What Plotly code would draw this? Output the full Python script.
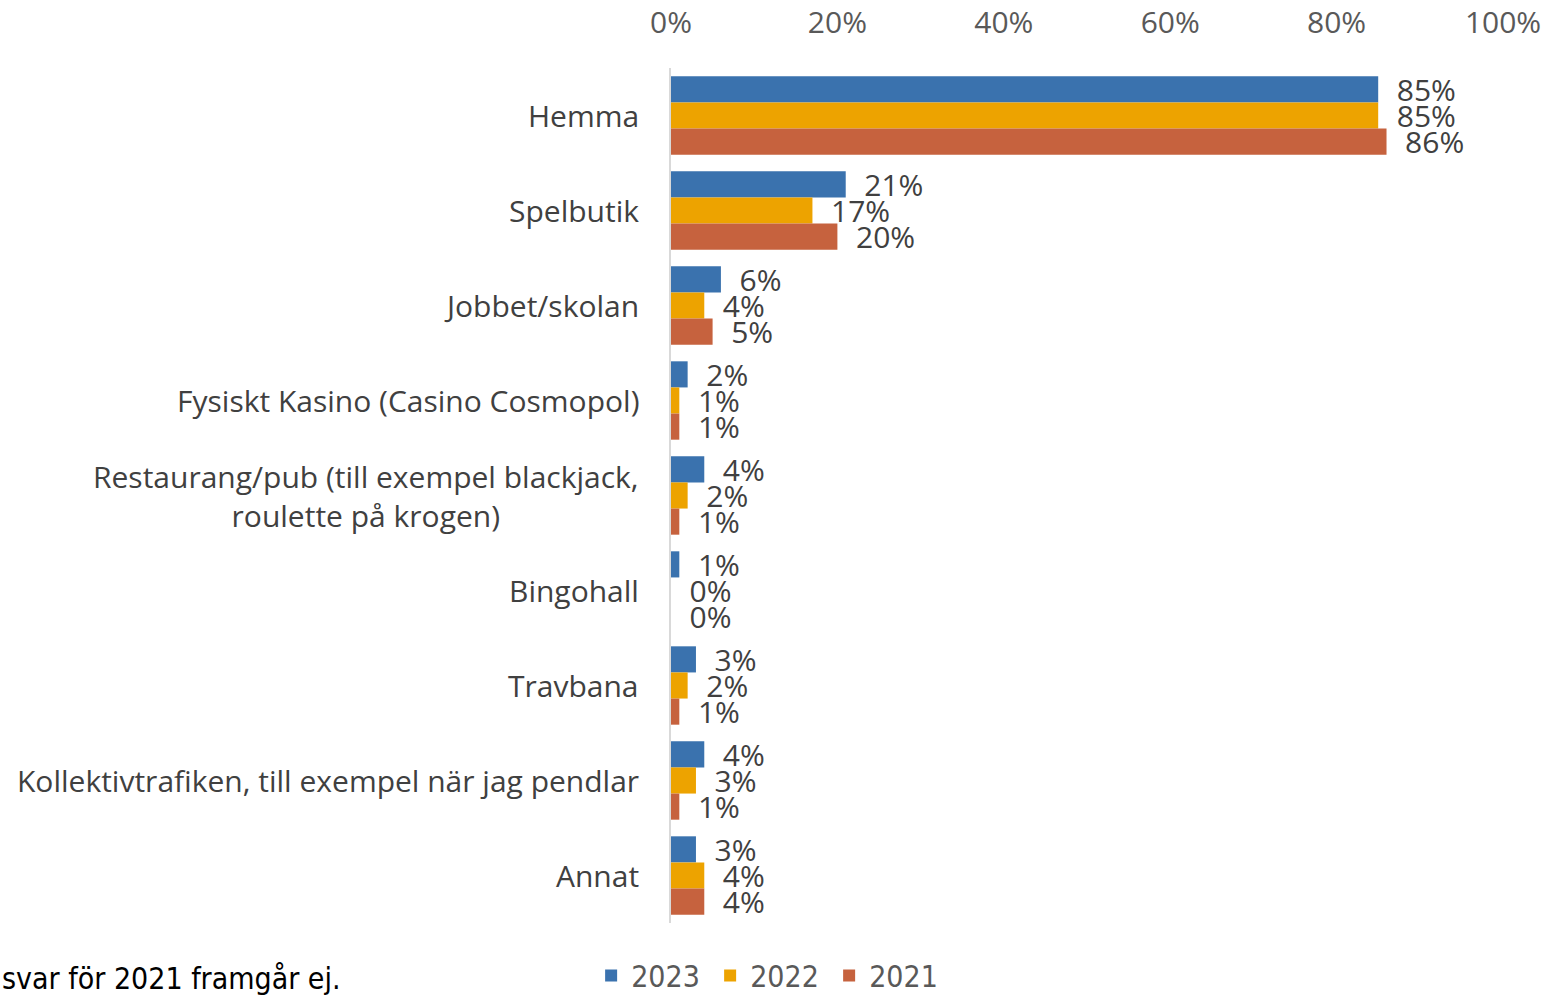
import plotly.graph_objects as go

categories = ["Hemma", "Spelbutik", "Jobbet/skolan", "Fysiskt Kasino (Casino Cosmopol)",
              "Restaurang/pub (till exempel blackjack,<br>roulette på krogen)", "Bingohall",
              "Travbana", "Kollektivtrafiken, till exempel när jag pendlar", "Annat"]
years = ["2023", "2022", "2021"]
v2023 = [85, 21, 6, 2, 4, 1, 3, 4, 3]
v2022 = [85, 17, 4, 1, 2, 0, 2, 3, 4]
v2021 = [86, 20, 5, 1, 1, 0, 1, 1, 4]
colors = ["#3A72AE", "#EDA300", "#C6623E"]
x_ticks = [0, 20, 40, 60, 80, 100]
x_tick_text = ["0%", "20%", "40%", "60%", "80%", "100%"]
footnote = "svar för 2021 framgår ej."

main_font = "Open Sans, Noto Sans, sans-serif"
narrow_font = "Liberation Sans Narrow, DejaVu Sans Condensed, sans-serif"

W, H = 1544, 996
L, T, R = 671, 68, 41
PLOT_H = 855.5
B = H - T - PLOT_H

fig = go.Figure()
for name, vals, col in zip(years, [v2023, v2022, v2021], colors):
    fig.add_trace(go.Bar(
        y=list(range(len(categories))), x=vals, name=name, orientation="h",
        marker=dict(color=col, line=dict(width=0)),
        text=["\u00a0\u00a0" + f"{v}%" for v in vals], textposition="outside",
        textfont=dict(family=main_font, size=30, color="#404040"),
        constraintext="none", cliponaxis=False,
    ))

for i, c in enumerate(categories):
    fig.add_annotation(x=0, xref="x", y=i, yref="y", text=c, showarrow=False,
                       xanchor="right", yanchor="middle", align="center", xshift=-30,
                       font=dict(family=main_font, size=30, color="#404040"))

fig.add_annotation(x=-L / 832, xref="paper", y=-(979 - 923.5) / PLOT_H, yref="paper",
                   text=footnote, showarrow=False, xanchor="left", yanchor="middle",
                   font=dict(family=narrow_font, size=30, color="#000000"))

fig.update_layout(
    width=W, height=H, barmode="group", bargap=0.175, bargroupgap=0,
    plot_bgcolor="white", paper_bgcolor="white",
    margin=dict(l=L, r=R, t=T, b=B, autoexpand=False),
    xaxis=dict(range=[0, 100], side="top", tickvals=x_ticks, ticktext=x_tick_text,
               showgrid=False, zeroline=False, showline=False, automargin=False,
               ticks="outside", ticklen=22, tickcolor="rgba(0,0,0,0)",
               ticklabeloverflow="allow",
               tickfont=dict(family=main_font, size=30, color="#595959")),
    yaxis=dict(range=[len(categories) - 0.5, -0.5], showticklabels=False,
               showgrid=False, zeroline=False, showline=True, automargin=False,
               linecolor="#D9D9D9", linewidth=2, ticks=""),
    legend=dict(orientation="h", x=-0.096, xanchor="left", y=-(950 - 923.5) / PLOT_H, yanchor="top",
                font=dict(family=narrow_font, size=30, color="#595959"),
                traceorder="normal", itemwidth=30, entrywidth=74, entrywidthmode="pixels"),
    showlegend=True,
)

fig.write_html("out.html", config={"displayModeBar": False},
               post_script="document.body.style.margin='0';document.body.style.overflow='hidden';")
